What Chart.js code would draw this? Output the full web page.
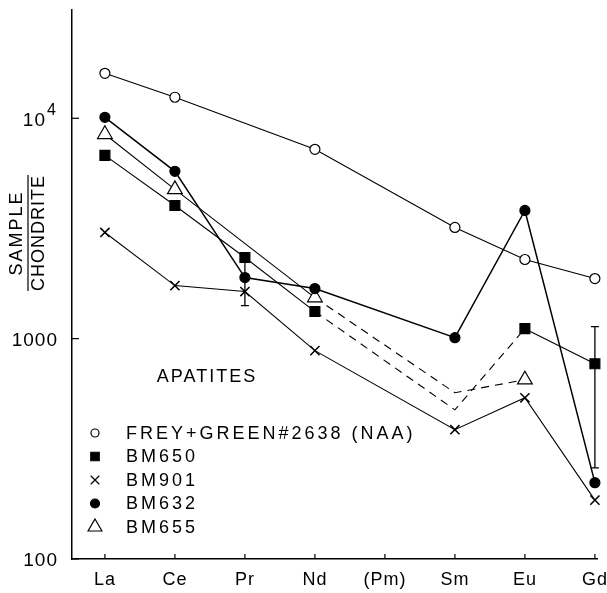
<!DOCTYPE html>
<html>
<head>
<meta charset="utf-8">
<title>Apatites REE</title>
<script src="https://cdn.jsdelivr.net/npm/chart.js@4"></script>
<style>
  html, body { margin: 0; padding: 0; background: #fff; }
  #wrap { width: 607px; height: 593px; }
</style>
</head>
<body>
<div id="wrap"><canvas id="reeChart" width="607" height="593"></canvas></div>
<script>
// --- data (sample / chondrite) ---
const ELEMENTS = ["La", "Ce", "Pr", "Nd", "(Pm)", "Sm", "Eu", "Gd"];
const FREY_GREEN = [16000, 12460, null, 7230, null, 3195, 2286, 1874];
const BM650 = [6790, 4022, 2336, 1327, null, 475, 1110, 769];
const BM901 = [3033, 1741, 1636, 882, null, 386, 539, 185];
const BM632 = [10100, 5745, 1893, 1688, null, 1010, 3817, 222];
const BM655 = [8460, 4757, null, 1536, null, 568, 651, null];
const Y_TICKS = [100, 1000, 10000];
const Y_LABELS = ["100", "1000", "10"];
// error bars
const ERR_AT = [2, 7];
const ERR_HI = [2336, 1134];
const ERR_LO = [1413, 259];

const FONT = '"Liberation Sans", Arial, sans-serif';

function pts(arr) {
  return arr.map((v, i) => ({ x: i, y: v }));
}

// dashed from Nd through the interpolated Sm to Eu
const dashNdEu = ctx => (ctx.p1DataIndex === 5 || ctx.p1DataIndex === 6) ? [8, 6] : [];
const hideSm = r => ctx => ctx.dataIndex === 5 ? 0 : r;

const legendRows = [
  { text: "FREY+GREEN#2638 (NAA)", style: "circle", r: 4, fill: "#fff" },
  { text: "BM650", style: "rect", r: 6, fill: "#000" },
  { text: "BM901", style: "crossRot", r: 6, fill: "#000" },
  { text: "BM632", style: "circle", r: 4.5, fill: "#000" },
  { text: "BM655", style: "triangle", r: 8, fill: "#fff" }
];

const paperPlugin = {
  id: "paper",
  afterDatasetsDraw(chart) {
    const { ctx, scales: { x, y } } = chart;
    ctx.save();
    ctx.strokeStyle = "#000";
    ctx.lineWidth = 1.3;
    ERR_AT.forEach((i, k) => {
      const px = x.getPixelForValue(i);
      const top = y.getPixelForValue(ERR_HI[k]);
      const bot = y.getPixelForValue(ERR_LO[k]);
      ctx.beginPath();
      ctx.moveTo(px, top); ctx.lineTo(px, bot);
      if (k === 1) { ctx.moveTo(px - 4, top); ctx.lineTo(px + 4, top); }
      ctx.moveTo(px - 4, bot); ctx.lineTo(px + 4, bot);
      ctx.stroke();
    });
    ctx.restore();
  },
  afterDraw(chart) {
    const { ctx, chartArea: a, scales: { x, y } } = chart;
    ctx.save();
    ctx.strokeStyle = "#000";
    ctx.fillStyle = "#000";
    ctx.lineWidth = 1.2;

    // x ticks point inwards
    ctx.font = "18px " + FONT;
    ctx.textAlign = "center";
    ctx.textBaseline = "middle";
    ctx.letterSpacing = "1px";
    ELEMENTS.forEach((name, i) => {
      const px = x.getPixelForValue(i);
      ctx.beginPath();
      ctx.moveTo(px, a.bottom);
      ctx.lineTo(px, a.bottom - 5);
      ctx.stroke();
      ctx.fillText(name, px, a.bottom + 21);
    });

    // y ticks
    ctx.textAlign = "right";
    Y_TICKS.forEach((v, i) => {
      const py = y.getPixelForValue(v);
      ctx.beginPath();
      ctx.moveTo(a.left, py);
      ctx.lineTo(a.left + 7, py);
      ctx.stroke();
      ctx.font = "19px " + FONT;
      ctx.fillText(Y_LABELS[i], i === 2 ? 46 : 58, py + 2);
      if (i === 2) {
        ctx.textAlign = "left";
        ctx.font = "16px " + FONT;
        ctx.fillText("4", 47, py - 8);
        ctx.textAlign = "right";
      }
    });

    // y title as a fraction
    ctx.save();
    ctx.translate(28, 233);
    ctx.rotate(-Math.PI / 2);
    ctx.textAlign = "center";
    ctx.font = "18px " + FONT;
    ctx.letterSpacing = "2px";
    ctx.fillText("SAMPLE", 0, -11);
    ctx.letterSpacing = "1px";
    ctx.fillText("CHONDRITE", 0, 11);
    ctx.beginPath();
    ctx.moveTo(-58, 0);
    ctx.lineTo(58, 0);
    ctx.stroke();
    ctx.restore();

    // label + legend inside the plot
    ctx.letterSpacing = "2px";
    ctx.font = "18px " + FONT;
    ctx.textAlign = "center";
    ctx.fillText("APATITES", 207, 377);
    ctx.textAlign = "left";
    ctx.letterSpacing = "3px";
    legendRows.forEach((row, i) => {
      const ry = 433 + i * 23.5;
      ctx.fillStyle = row.fill;
      ctx.strokeStyle = "#000";
      ctx.lineWidth = 1.2;
      Chart.helpers.drawPoint(ctx, { pointStyle: row.style, radius: row.r, rotation: 0, borderWidth: 1.2 }, 95, ry);
      ctx.fillStyle = "#000";
      ctx.fillText(row.text, 126, ry + 1);
    });
    ctx.restore();
  }
};

const common = {
  borderColor: "#000",
  pointBorderColor: "#000",
  borderWidth: 1.1,
  pointBorderWidth: 1.2,
  tension: 0,
  spanGaps: true,
  clip: false
};

new Chart(document.getElementById("reeChart"), {
  type: "line",
  data: {
    datasets: [
      { ...common, label: "FREY+GREEN#2638 (NAA)", data: pts(FREY_GREEN), pointStyle: "circle", pointRadius: 5, pointBackgroundColor: "#fff" },
      { ...common, label: "BM650", data: pts(BM650), pointStyle: "rect", pointRadius: hideSm(7), pointBackgroundColor: "#000", segment: { borderDash: dashNdEu } },
      { ...common, label: "BM901", data: pts(BM901), pointStyle: "crossRot", pointRadius: 6.5, pointBorderWidth: 1.5, pointBackgroundColor: "#000" },
      { ...common, label: "BM632", data: pts(BM632), pointStyle: "circle", pointRadius: 5, pointBackgroundColor: "#000", borderWidth: 1.5 },
      { ...common, label: "BM655", data: pts(BM655), pointStyle: "triangle", pointRadius: hideSm(8.5), pointBackgroundColor: "#fff", segment: { borderDash: dashNdEu } }
    ]
  },
  options: {
    responsive: false,
    animation: false,
    devicePixelRatio: 1,
    layout: { padding: { left: 72, right: 10, top: 10, bottom: 34 } },
    plugins: { legend: { display: false }, tooltip: { enabled: false } },
    scales: {
      x: {
        type: "linear",
        min: -0.47,
        max: 7.03,
        grid: { display: false },
        ticks: { display: false },
        border: { display: true, color: "#000", width: 1.5 },
        afterFit(s) { s.height = 0; }
      },
      y: {
        type: "logarithmic",
        min: 100,
        max: 31000,
        grid: { display: false },
        ticks: { display: false },
        border: { display: true, color: "#000", width: 1.5 },
        afterFit(s) { s.width = 0; }
      }
    }
  },
  plugins: [paperPlugin]
});
</script>
</body>
</html>
